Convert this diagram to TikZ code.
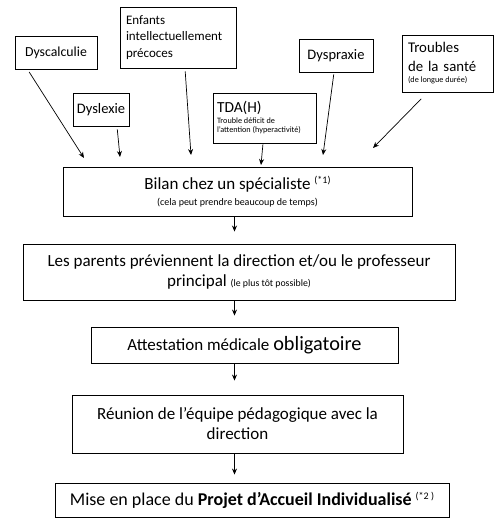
\documentclass[tikz,border=0pt]{standalone}
\usepackage{fontspec}
\setmainfont{Carlito}
\usetikzlibrary{arrows.meta,positioning}

\newcommand{\petit}[1]{\fontsize{#1}{10}\selectfont\spaceskip=0pt\xspaceskip=0pt}
\newcommand{\note}[1]{\raisebox{5.5pt}{\fontsize{10}{10}\selectfont #1}}

\begin{document}
\begin{tikzpicture}[x=1pt, y=-1pt,
  box/.style={draw, line width=0.9pt, inner sep=0pt, font=\fontsize{17}{20}\selectfont},
  haut/.style={box, font=\fontsize{14.5}{18}\selectfont},
  fleche/.style={-{Stealth[length=6pt,width=5pt]}, line width=0.7pt}]

\useasboundingbox (0,0) rectangle (496,530);

% Troubles (en haut)
\node[haut, minimum width=82, minimum height=33, font=\fontsize{13.8}{17}\selectfont] (dysc) at (56,52.5) {Dyscalculie};
\node[haut, minimum width=116, minimum height=61, text width=104, align=left, font=\fontsize{13}{16.5}\selectfont] (enfants) at (178,37.5)
  {Enfants\\intellectuellement\\précoces};
\node[haut, minimum width=56, minimum height=33] (dysl) at (101,109.5) {Dyslexie};
\node[haut, minimum width=103, minimum height=50, text width=95, align=left, font=\fontsize{15.4}{17}\selectfont] (tda) at (264.5,118)
  {TDA(H)\\[1pt]{\petit{8.2}Trouble déficit de\\[-8pt]l’attention (hyperactivité)}};
\node[haut, minimum width=74, minimum height=33] (dyspr) at (336,55.5) {Dyspraxie};
\node[haut, minimum width=91, minimum height=57, text width=79, align=left, font=\fontsize{14.8}{18.5}\selectfont] (sante) at (447.5,63.5)
  {Troubles\\de la santé\\[-7pt]{\petit{8.2}(de longue durée)}};

% Etapes
\node[box, minimum width=349, minimum height=49, align=center] (bilan) at (237.5,191.5)
  {Bilan chez un spécialiste \note{(*1)}\\[-4pt]{\petit{10}(cela peut prendre beaucoup de temps)}};
\node[box, minimum width=432, minimum height=56, align=center] (parents) at (239,272)
  {Les parents préviennent la direction et/ou le professeur\\principal {\petit{9.8}(le plus tôt possible)}};
\node[box, minimum width=307, minimum height=36] (attest) at (244.5,345)
  {Attestation médicale {\fontsize{20.3}{22}\selectfont obligatoire}};
\node[box, minimum width=331, minimum height=58, align=center] (reunion) at (237.5,424)
  {Réunion de l’équipe pédagogique avec la\\direction};
\node[box, minimum width=394, minimum height=34, font=\fontsize{18}{20}\selectfont] (pai) at (252,500)
  {Mise en place du \textbf{Projet d’Accueil Individualisé} \note{(*2 )}};

% Points d'arrivee au-dessus du bilan
\coordinate (inDysc) at (84,158);
\coordinate (inDysl) at (120,157);
\coordinate (inEnf) at (191,155);
\coordinate (inTda) at (261,165);
\coordinate (inDyspr) at (323,155);
\coordinate (inSante) at (373,148);
\coordinate (axe) at (234.5,0);

% Fleches
\draw[fleche, shorten <=3pt] ([xshift=13pt]dysc.south west) -- (inDysc);
\draw[fleche, shorten <=3pt] ([xshift=16pt]dysl.south) -- (inDysl);
\draw[fleche, shorten <=3pt] ([xshift=7pt]enfants.south) -- (inEnf);
\draw[fleche, shorten <=1pt] ([xshift=-1.5pt]tda.south) -- (inTda);
\draw[fleche, shorten <=2pt] ([xshift=-2pt]dyspr.south) -- (inDyspr);
\draw[fleche, shorten <=9pt] ([xshift=-20pt]sante.south) -- (inSante);

\draw[fleche, shorten >=12pt] (bilan.south -| axe) -- (parents.north -| axe);
\draw[fleche, shorten >=11pt] (parents.south -| axe) -- (attest.north -| axe);
\draw[fleche, shorten >=14pt] (attest.south -| axe) -- (reunion.north -| axe);
\draw[fleche, shorten >=8pt] (reunion.south -| axe) -- (pai.north -| axe);

\end{tikzpicture}
\end{document}
